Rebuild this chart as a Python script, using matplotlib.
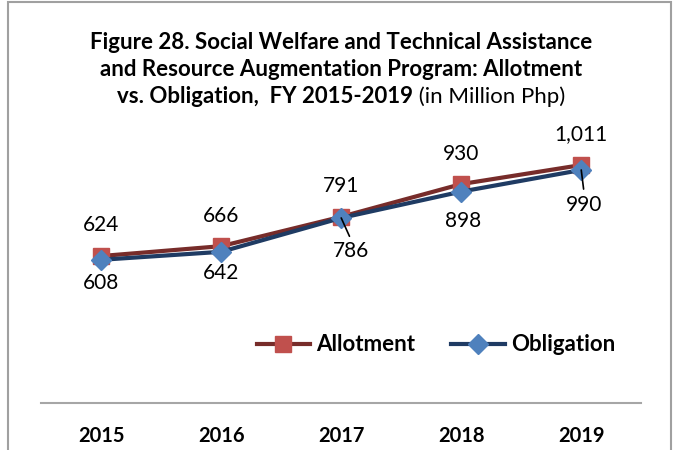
import matplotlib
matplotlib.use("Agg")
import matplotlib.pyplot as plt
from matplotlib.patches import Rectangle

plt.rcParams['font.family'] = ['Lato', 'DejaVu Sans']

years = ['2015', '2016', '2017', '2018', '2019']
allotment = [624, 666, 791, 930, 1011]
obligation = [608, 642, 786, 898, 990]
allot_labels = ['624', '666', '791', '930', '1,011']
oblig_labels = ['608', '642', '786', '898', '990']

fig = plt.figure(figsize=(6.75, 4.5), dpi=100)
ax = fig.add_axes([0.061, 0.105, 0.889, 0.627])

x = list(range(len(years)))

# Allotment / Obligation lines
ax.plot(x, allotment, color='#772C2A', linewidth=3, marker='s', markersize=11,
        markerfacecolor='#C0504D', markeredgecolor='#C0504D', label='Allotment', zorder=3)
ax.plot(x, obligation, color='#1F3B63', linewidth=3, marker='D', markersize=10,
        markerfacecolor='#4F81BD', markeredgecolor='#4F81BD', label='Obligation', zorder=4)

# data labels
for i in range(len(years)):
    ax.annotate(allot_labels[i], (x[i], allotment[i]), xytext=(0, 22),
                textcoords='offset points', ha='center', va='center', fontsize=15)

obl_offsets = [(0, -17), (0, -15), (7, -24), (1, -21), (2, -25)]
for i in range(len(years)):
    dx, dy = obl_offsets[i]
    ax.annotate(oblig_labels[i], (x[i], obligation[i]), xytext=(dx, dy),
                textcoords='offset points', ha='center', va='center', fontsize=15)

# leader lines
for i in [2, 4]:
    dx, dy = obl_offsets[i]
    ax.annotate('', (x[i], obligation[i]), xytext=(dx * 0.85, dy * 0.55),
                textcoords='offset points',
                arrowprops=dict(arrowstyle='-', color='black', lw=1.2, shrinkA=0, shrinkB=0),
                zorder=5)

ax.set_xlim(-0.5, 4.5)
ax.set_ylim(0, 1200)
ax.set_yticks([])
ax.set_xticks(x)
ax.set_xticklabels(years, fontsize=14.5, fontweight='bold')
ax.tick_params(axis='x', length=0, pad=17)
for s in ['top', 'right', 'left']:
    ax.spines[s].set_visible(False)
ax.spines['bottom'].set_color('#A6A6A6')
ax.spines['bottom'].set_linewidth(1.5)

leg = ax.legend(loc='center', bbox_to_anchor=(0.658, 0.205), ncol=2, frameon=False,
                prop={'weight': 'bold', 'size': 16}, handlelength=2.4,
                columnspacing=1.6, handletextpad=0.3)

# title, last line mixes bold and regular text
fig.text(0.505, 0.905, 'Figure 28. Social Welfare and Technical Assistance',
         ha='center', va='center', fontsize=16, fontweight='bold')
fig.text(0.505, 0.845, 'and Resource Augmentation Program: Allotment',
         ha='center', va='center', fontsize=16, fontweight='bold')
t1 = fig.text(0, 0.785, 'vs. Obligation,  FY 2015-2019', ha='left', va='center',
              fontsize=16, fontweight='bold')
t2 = fig.text(0, 0.785, ' (in Million Php)', ha='left', va='center', fontsize=16)
fig.canvas.draw()
r = fig.canvas.get_renderer()
w1 = t1.get_window_extent(r).width / fig.bbox.width
w2 = t2.get_window_extent(r).width / fig.bbox.width
start = 0.505 - (w1 + w2) / 2
t1.set_x(start)
t2.set_x(start + w1)

# chart border
fig.patches.append(Rectangle((0.012, -0.05), 0.982, 1.045, transform=fig.transFigure,
                             fill=False, edgecolor='#A0A0A0', linewidth=1.5))

fig.savefig('out.png', dpi=100)
